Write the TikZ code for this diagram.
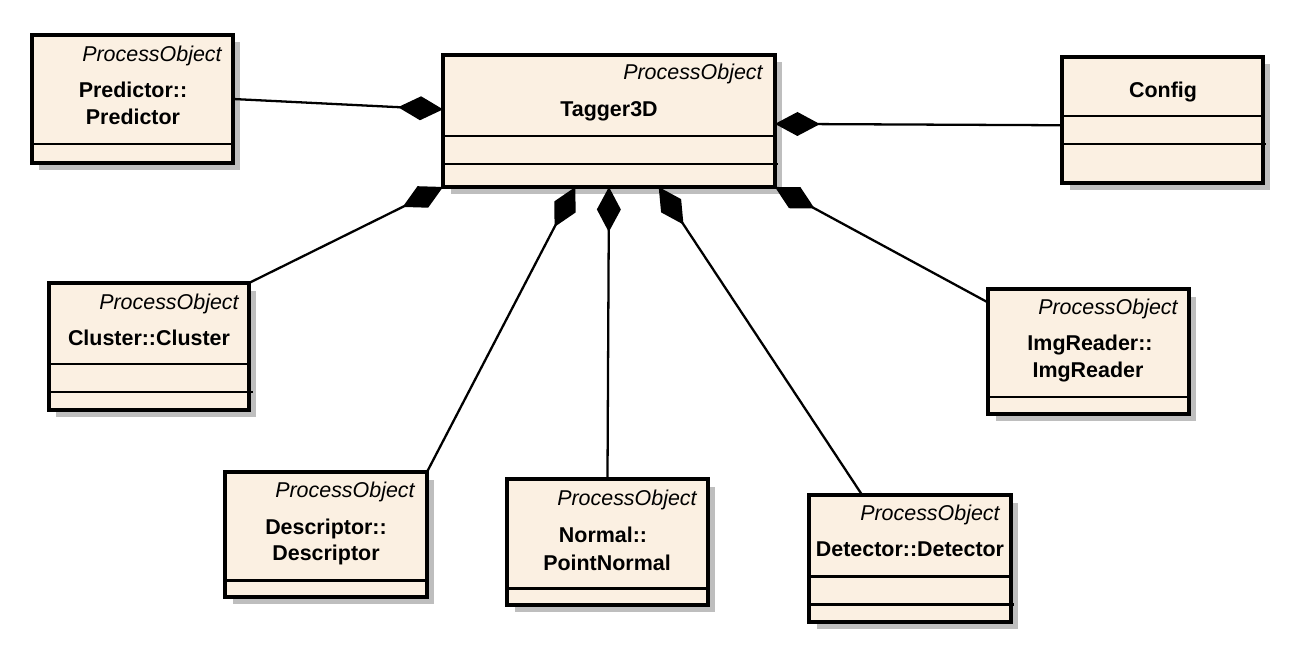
\documentclass[tikz,border=0pt]{standalone}
\usepackage{fontspec}
\setmainfont{Liberation Sans}
\usetikzlibrary{shadows,arrows.meta}
\definecolor{umlfill}{RGB}{251,240,226}
\definecolor{umlshade}{RGB}{190,190,190}
\begin{document}
\begin{tikzpicture}[x=0.02cm, y=-0.02cm,
class node/.style={rectangle,draw,line width=2.1pt,fill=umlfill,anchor=north west,inner sep=0pt,outer sep=0pt,drop shadow={shadow xshift=0.15cm,shadow yshift=-0.15cm,fill=umlshade,opacity=1}},
sep line/.style={line width=1.7pt},
comp line/.style={line width=1.3pt,-{Diamond[length=0.9cm,width=0.48cm]}},
stereo/.style={font=\fontsize{12.2}{15}\selectfont\itshape,anchor=base east,inner sep=0pt},
class name/.style={font=\fontsize{12.2}{15}\selectfont\bfseries,anchor=base,inner sep=0pt}]
\useasboundingbox (0,0) rectangle (1307,652);
\begin{scope}
\node[class node,minimum width=4.02cm,minimum height=2.56cm] (predictor) at (32,35) {};
\node[class node,minimum width=6.64cm,minimum height=2.64cm] (tagger) at (443,55) {};
\node[class node,minimum width=4.02cm,minimum height=2.52cm] (config) at (1062,57) {};
\node[class node,minimum width=4.00cm,minimum height=2.54cm] (cluster) at (49,283) {};
\node[class node,minimum width=4.02cm,minimum height=2.50cm] (imgreader) at (988,289) {};
\node[class node,minimum width=4.04cm,minimum height=2.50cm] (descriptor) at (225,472) {};
\node[class node,minimum width=4.02cm,minimum height=2.52cm] (normal) at (507,479) {};
\node[class node,minimum width=4.04cm,minimum height=2.54cm] (detector) at (809,495) {};
%\node[class node,minimum width=,minimum height=] () at (,) {};
\end{scope}
\begin{scope}
\draw[sep line] (predictor.west |- 0,144) -- (predictor.east |- 0,144);
\draw[sep line] (tagger.west |- 0,136) -- (tagger.east |- 0,136);
\draw[sep line] (tagger.west |- 0,164) -- (tagger.east |- 0,164) -- ++(3,0);
\draw[sep line] (config.west |- 0,116) -- (config.east |- 0,116);
\draw[sep line] (config.west |- 0,144) -- (config.east |- 0,144) -- ++(3,0);
\draw[sep line] (cluster.west |- 0,364) -- (cluster.east |- 0,364);
\draw[sep line] (cluster.west |- 0,392) -- (cluster.east |- 0,392) -- ++(4,0);
\draw[sep line] (imgreader.west |- 0,397) -- (imgreader.east |- 0,397);
\draw[sep line] (descriptor.west |- 0,580) -- (descriptor.east |- 0,580);
\draw[sep line] (normal.west |- 0,588) -- (normal.east |- 0,588);
\draw[sep line] (detector.west |- 0,576) -- (detector.east |- 0,576);
\draw[sep line] (detector.west |- 0,604) -- (detector.east |- 0,604) -- ++(3,0);
\end{scope}
\begin{scope}
\node[stereo] (predictorst) at (222,62) {ProcessObject};
\node[class name] (predictorn1) at (133,97) {Predictor::};
\node[class name] (predictorn2) at (133,124) {Predictor};
\node[stereo] (taggerst) at (763,80) {ProcessObject};
\node[class name] (taggern) at (609,116) {Tagger3D};
\node[class name] (confign) at (1163,97) {Config};
\node[stereo] (clusterst) at (239,309) {ProcessObject};
\node[class name] (clustern) at (149,345) {Cluster::Cluster};
\node[stereo] (imgreaderst) at (1178,314) {ProcessObject};
\node[class name] (imgreadern1) at (1090,350) {ImgReader::};
\node[class name] (imgreadern2) at (1088,377) {ImgReader};
\node[stereo] (descriptorst) at (415,497) {ProcessObject};
\node[class name] (descriptorn1) at (326,534) {Descriptor::};
\node[class name] (descriptorn2) at (326,560) {Descriptor};
\node[stereo] (normalst) at (697,505) {ProcessObject};
\node[class name] (normaln1) at (603,542) {Normal::};
\node[class name] (normaln2) at (607,570) {PointNormal};
\node[stereo] (detectorst) at (1000,520) {ProcessObject};
\node[class name] (detectorn) at (910,556) {Detector::Detector};
\end{scope}
\begin{scope}
\draw (predictor.east) edge[comp line] (tagger.176);
\draw (config.183) edge[comp line] (tagger.359);
\draw (cluster.north east) edge[comp line] (tagger.south west);
\draw (descriptor.north east) edge[comp line] (tagger.243);
\draw (normal.north) edge[comp line] (tagger.south);
\draw (detector.127) edge[comp line] (tagger.307);
\draw (imgreader.154) edge[comp line] (tagger.south east);
%\draw (a) edge[comp line] (b);
\end{scope}
\end{tikzpicture}
\end{document}
